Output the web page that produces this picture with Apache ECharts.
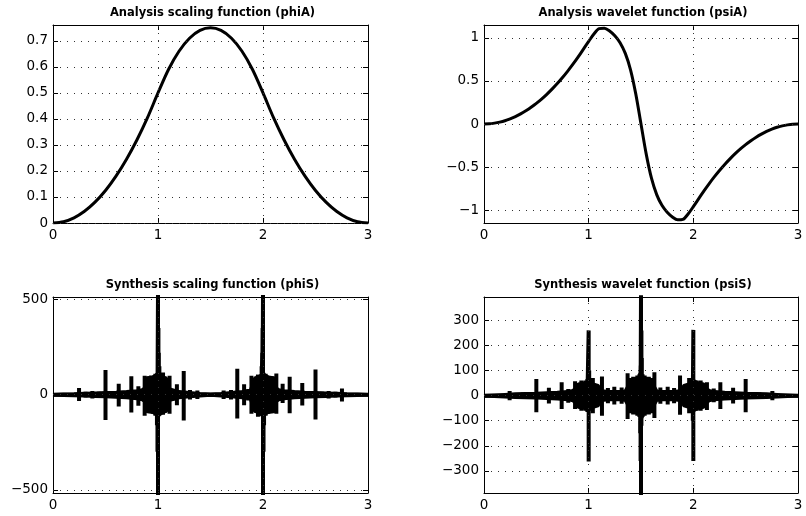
<!DOCTYPE html>
<html>
<head>
<meta charset="utf-8">
<script src="https://cdn.jsdelivr.net/npm/echarts@6/dist/echarts.min.js"></script>
<style>
html,body{margin:0;padding:0;background:#fff;}
#chart{width:806px;height:516px;}
</style>
</head>
<body>
<div id="chart"></div>
<script>
// ---------------- data ----------------
const titles = [
  'Analysis scaling function (phiA)',
  'Analysis wavelet function (psiA)',
  'Synthesis scaling function (phiS)',
  'Synthesis wavelet function (psiS)'
];
const xTicks = [0, 1, 2, 3];
const xGridVals = [1, 2];

const phiA_x = [0,0.1,0.2,0.3,0.4,0.5,0.6,0.7,0.8,0.9,1.0,1.1,1.2,1.3,1.4,1.5,1.6,1.7,1.8,1.9,2.0,2.1,2.2,2.3,2.4,2.5,2.6,2.7,2.8,2.9,3.0];
const phiA_y = [0,0.005,0.02,0.045,0.08,0.125,0.18,0.245,0.32,0.405,0.5,0.59,0.66,0.71,0.74,0.75,0.74,0.71,0.66,0.59,0.5,0.405,0.32,0.245,0.18,0.125,0.08,0.045,0.02,0.005,0];
const phiA_yTicks = [0, 0.1, 0.2, 0.3, 0.4, 0.5, 0.6, 0.7];

const psiA_x = [0,0.05,0.1,0.15,0.2,0.25,0.3,0.35,0.4,0.45,0.5,0.55,0.6,0.65,0.7,0.75,0.8,0.85,0.9,0.95,1.0,1.05,1.1,1.15,1.2,1.25,1.3,1.35,1.4,1.45,1.5,1.55,1.6,1.65,1.7,1.75,1.8,1.85,1.9,1.95,2.0,2.05,2.1,2.15,2.2,2.25,2.3,2.35,2.4,2.45,2.5,2.55,2.6,2.65,2.7,2.75,2.8,2.85,2.9,2.95,3.0];
const psiA_y = [0,0.002,0.01,0.022,0.038,0.06,0.086,0.118,0.154,0.195,0.24,0.29,0.345,0.405,0.47,0.54,0.615,0.695,0.78,0.87,0.96,1.045,1.108,1.113,1.08,1.025,0.945,0.82,0.63,0.35,0,-0.35,-0.63,-0.82,-0.945,-1.025,-1.08,-1.113,-1.108,-1.045,-0.96,-0.87,-0.78,-0.695,-0.615,-0.54,-0.47,-0.405,-0.345,-0.29,-0.24,-0.195,-0.154,-0.118,-0.086,-0.06,-0.038,-0.022,-0.01,-0.002,0];
const psiA_yTicks = [-1, -0.5, 0, 0.5, 1];

// dense body of the synthesis functions: [x, upper extent, lower extent]
const phiS_body = [[0,0,0],[0.1,3,3],[0.2,4,4],[0.3,6,6],[0.4,8,8],[0.5,10,10],[0.6,12,12],[0.7,15,15],[0.8,20,20],[0.85,25,25],[0.875,35,35],[0.885,70,70],[0.9,88,88],[0.95,92,92],[0.98,100,100],[1.0,110,110],[1.02,100,100],[1.05,92,92],[1.08,85,85],[1.095,60,60],[1.105,30,30],[1.12,20,20],[1.2,15,15],[1.3,10,10],[1.4,5,5],[1.5,2,2],[1.6,5,5],[1.7,10,10],[1.8,15,15],[1.88,20,20],[1.895,30,30],[1.905,60,60],[1.92,85,85],[1.95,92,92],[1.98,100,100],[2.0,110,110],[2.02,100,100],[2.05,92,92],[2.1,88,88],[2.115,70,70],[2.125,35,35],[2.15,25,25],[2.2,20,20],[2.3,15,15],[2.4,12,12],[2.5,10,10],[2.6,8,8],[2.7,6,6],[2.8,4,4],[2.9,3,3],[3.0,0,0]];
// individual spikes: [x, upward amplitude, downward amplitude]
const phiS_spikes = [[0.108,8,8],[0.248,35,33],[0.31,15,15],[0.375,20,20],[0.438,15,15],[0.5,130,133],[0.626,57,62],[0.7,20,20],[0.746,97,94],[0.78,25,25],[0.813,44,58],[0.84,30,30],[0.873,100,111],[0.905,95,95],[0.925,95,95],[0.935,100,95],[0.955,100,100],[0.975,110,110],[0.99,110,160],[0.995,115,300],[1.0,540,540],[1.004,350,115],[1.008,220,110],[1.013,150,110],[1.048,116,105],[1.064,95,95],[1.11,100,100],[1.14,30,30],[1.18,55,55],[1.245,125,136],[1.305,25,25],[1.375,22,22],[1.625,22,22],[1.695,25,25],[1.755,136,125],[1.82,55,55],[1.86,30,30],[1.89,100,100],[1.936,95,95],[1.952,105,116],[1.987,150,110],[1.992,220,110],[1.996,350,115],[2.0,540,540],[2.005,115,300],[2.01,110,160],[2.025,110,110],[2.045,100,100],[2.065,95,95],[2.095,95,95],[2.127,111,100],[2.16,30,30],[2.187,58,44],[2.22,25,25],[2.254,94,97],[2.3,20,20],[2.374,62,57],[2.5,133,130],[2.562,15,15],[2.625,20,20],[2.69,15,15],[2.752,33,35],[2.892,8,8]];
const phiS_yTicks = [-500, 0, 500];

const psiS_body = [[0,0,0],[0.1,2,2],[0.2,4,4],[0.3,6,6],[0.4,7,7],[0.5,8,8],[0.6,10,10],[0.7,12,12],[0.8,15,15],[0.85,20,20],[0.88,30,30],[0.9,45,45],[0.95,48,48],[0.99,55,55],[1.0,60,60],[1.02,50,50],[1.05,45,45],[1.09,40,40],[1.1,25,25],[1.12,18,18],[1.2,15,15],[1.3,15,15],[1.35,18,18],[1.38,40,40],[1.4,62,62],[1.45,68,68],[1.49,75,75],[1.5,80,80],[1.51,75,75],[1.55,68,68],[1.6,62,62],[1.62,40,40],[1.65,18,18],[1.7,15,15],[1.8,15,15],[1.88,18,18],[1.9,25,25],[1.91,40,40],[1.95,45,45],[1.98,50,50],[2.0,60,60],[2.01,55,55],[2.05,48,48],[2.1,45,45],[2.12,30,30],[2.15,20,20],[2.2,15,15],[2.3,12,12],[2.4,10,10],[2.5,8,8],[2.6,7,7],[2.7,6,6],[2.8,4,4],[2.9,2,2],[3.0,0,0]];
const psiS_spikes = [[0.245,18,18],[0.303,10,10],[0.37,12,12],[0.43,12,12],[0.5,66,66],[0.62,31,31],[0.742,53,53],[0.805,26,28],[0.87,57,53],[0.93,60,60],[0.97,60,60],[0.988,65,65],[1.0,260,262],[1.005,100,60],[1.04,70,70],[1.127,76,80],[1.184,30,30],[1.245,35,35],[1.315,32,32],[1.372,89,93],[1.405,70,70],[1.425,75,75],[1.465,80,80],[1.485,85,85],[1.492,90,150],[1.496,120,260],[1.5,400,400],[1.504,260,120],[1.508,150,90],[1.515,85,85],[1.535,80,80],[1.575,75,75],[1.595,70,70],[1.628,93,89],[1.685,32,32],[1.755,35,35],[1.816,30,30],[1.873,80,76],[1.96,70,70],[1.988,60,60],[1.995,60,100],[2.0,262,260],[2.03,60,60],[2.07,60,60],[2.13,53,57],[2.195,28,26],[2.258,53,53],[2.38,31,31],[2.5,66,66],[2.57,12,12],[2.63,12,12],[2.697,10,10],[2.755,18,18]];
const psiS_yTicks = [-300, -200, -100, 0, 100, 200, 300];

// ---------------- build ----------------
function pairs(xs, ys) { return xs.map((x, i) => [x, ys[i]]); }
function spikeLine(sp) {
  const d = [[xTicks[0], 0]];
  sp.forEach(s => { d.push([s[0], 0], [s[0], s[1]], [s[0], -s[2]], [s[0], 0]); });
  d.push([xTicks[xTicks.length - 1], 0]);
  return d;
}
const upper = b => b.map(r => [r[0], r[1]]);
const lower = b => b.map(r => [r[0], -r[2]]);

const FONT = 'DejaVu Sans';
const grids = [
  {left: 53, top: 25, width: 315, height: 198},
  {left: 484, top: 25, width: 314, height: 198},
  {left: 53, top: 297, width: 315, height: 196},
  {left: 484, top: 297, width: 314, height: 196}
];
const panels = [
  {curve: pairs(phiA_x, phiA_y), ymin: 0, ymax: 0.761, yTicks: phiA_yTicks},
  {curve: pairs(psiA_x, psiA_y), ymin: -1.15, ymax: 1.15, yTicks: psiA_yTicks},
  {body: phiS_body, spikes: spikeLine(phiS_spikes), ymin: -516, ymax: 513, yTicks: phiS_yTicks},
  {body: psiS_body, spikes: spikeLine(psiS_spikes), ymin: -388, ymax: 393, yTicks: psiS_yTicks}
];

const fmt = v => String(v).replace('-', '\u2212');
const xAxes = [], yAxes = [], series = [], graphics = [];
panels.forEach((p, i) => {
  const common = {
    gridIndex: i, type: 'value',
    axisLine: {show: true, onZero: false, lineStyle: {color: '#000', width: 1}},
    splitLine: {show: false}
  };
  const tick = {show: true, inside: true, length: 5, lineStyle: {color: '#000'}};
  xAxes.push(Object.assign({}, common, {
    position: 'bottom', min: 0, max: 3, interval: 1, axisTick: tick,
    axisLabel: {show: true, color: '#000', fontFamily: FONT, fontSize: 13.5, margin: 5, formatter: fmt}
  }));
  xAxes.push(Object.assign({}, common, {
    position: 'top', min: 0, max: 3, interval: 1, axisTick: tick, axisLabel: {show: false}
  }));
  yAxes.push(Object.assign({}, common, {
    position: 'left', min: p.ymin, max: p.ymax,
    axisTick: Object.assign({customValues: p.yTicks}, tick),
    axisLabel: {show: true, color: '#000', fontFamily: FONT, fontSize: 13.5, margin: 5, customValues: p.yTicks, formatter: fmt}
  }));
  yAxes.push(Object.assign({}, common, {
    position: 'right', min: p.ymin, max: p.ymax,
    axisTick: Object.assign({customValues: p.yTicks}, tick), axisLabel: {show: false}
  }));
  const ax = {xAxisIndex: 2 * i, yAxisIndex: 2 * i};
  // dotted grid lines
  series.push(Object.assign({
    type: 'line', data: [], z: 1, silent: true,
    markLine: {
      silent: true, symbol: ['none', 'none'], label: {show: false}, animation: false,
      emphasis: {disabled: true},
      lineStyle: {type: [1, 6], color: '#333', width: 1},
      data: xGridVals.map(v => ({xAxis: v})).concat(p.yTicks.map(v => ({yAxis: v})))
    }
  }, ax));
  const base = {type: 'line', showSymbol: false, symbol: 'none', clip: true, silent: true, emphasis: {disabled: true}};
  if (p.curve) {
    series.push(Object.assign({}, base, ax, {
      data: p.curve, z: 3, smooth: 0.3,
      lineStyle: {color: '#000', width: 3}
    }));
  } else {
    [upper(p.body), lower(p.body)].forEach(d => {
      series.push(Object.assign({}, base, ax, {
        data: d, z: 2, smooth: false,
        lineStyle: {color: '#000', width: 3.5},
        areaStyle: {color: '#000', opacity: 1}
      }));
    });
    series.push(Object.assign({}, base, ax, {
      data: p.spikes, z: 3, smooth: false,
      lineStyle: {color: '#000', width: 4, join: 'bevel'}
    }));
  }
  const g = grids[i];
  graphics.push({
    type: 'text', x: g.left + g.width / 2 + 2, y: g.top - 12,
    style: {text: titles[i], align: 'center', verticalAlign: 'middle',
      fontFamily: FONT, fontWeight: 'bold', fontSize: 11.5, fill: '#000'}
  });
});

const chart = echarts.init(document.getElementById('chart'), null, {renderer: 'canvas'});
chart.setOption({
  animation: false,
  backgroundColor: '#fff',
  grid: grids,
  xAxis: xAxes,
  yAxis: yAxes,
  series: series,
  graphic: graphics
});
</script>
</body>
</html>
